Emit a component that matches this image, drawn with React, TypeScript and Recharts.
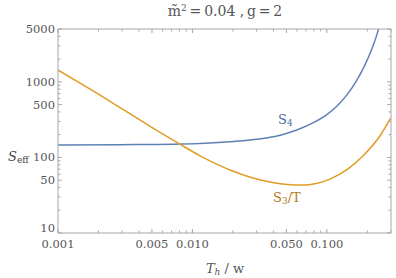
import { LineChart, Line, XAxis, YAxis } from 'recharts'

// S4 curve (blue)
const S4_T = [0.001, 0.0029, 0.0084, 0.0114, 0.0201, 0.0361, 0.0451, 0.0604, 0.0794, 0.1028, 0.118, 0.14, 0.166, 0.191, 0.215, 0.234, 0.246]
const S4_VAL = [146, 147.6, 150.7, 153, 162, 182, 197, 232, 288, 383, 471, 662, 1030, 1637, 2649, 4055, 5495]

// S3/T curve (orange)
const S3_T = [0.001, 0.001675, 0.003, 0.00485, 0.00811, 0.0114, 0.0153, 0.0201, 0.027, 0.0361, 0.0451, 0.0564, 0.0694, 0.0851, 0.1064, 0.142, 0.187, 0.251, 0.298]
const S3_VAL = [1432, 830, 438, 258, 149, 105, 81, 65.5, 54.6, 47.9, 44.8, 43.3, 43.3, 45.5, 52, 69.3, 106, 198, 330]

const X_MAJOR = [0.001, 0.005, 0.01, 0.05, 0.1]
const X_MAJOR_LABELS = ['0.001', '0.005', '0.010', '0.050', '0.100']
const X_MINOR = [0.002, 0.003, 0.004, 0.006, 0.007, 0.008, 0.009, 0.02, 0.03, 0.04, 0.06, 0.07, 0.08, 0.09, 0.2, 0.3]
const Y_MAJOR = [10, 50, 100, 500, 1000, 5000]
const Y_MAJOR_LABELS = ['10', '50', '100', '500', '1000', '5000']
const Y_MINOR = [20, 30, 40, 60, 70, 80, 90, 200, 300, 400, 600, 700, 800, 900, 2000, 3000, 4000]

const X_DOMAIN: [number, number] = [0.001, 0.3]
const Y_DOMAIN: [number, number] = [10, 5000]

const FRAME = '#a6a6a6'
const TICK_TEXT = '#555'
const BLUE = '#5e81b5'
const ORANGE = '#e19c24'
const FONT = '"DejaVu Serif", serif'

const s4Data = S4_T.map((t, i) => ({ t, v: S4_VAL[i] }))
const s3Data = S3_T.map((t, i) => ({ t, v: S3_VAL[i] }))
const xTicks = [...X_MAJOR, ...X_MINOR]
const yTicks = [...Y_MAJOR, ...Y_MINOR]

const majorIndex = (arr: number[], v: number) => arr.findIndex((m) => Math.abs(m - v) / m < 1e-6)

function XTick({ x, y, payload, side }: any) {
  const v = payload.value
  const idx = majorIndex(X_MAJOR, v)
  const len = idx >= 0 ? 4 : 2.5
  const dir = side === 'top' ? 1 : -1
  return (
    <g>
      <line x1={x} x2={x} y1={y} y2={y + dir * len} stroke={FRAME} strokeWidth={1} />
      {side !== 'top' && idx >= 0 && (
        <text x={x} y={y + 15} textAnchor="middle" fill={TICK_TEXT} fontSize={11.5} fontFamily={FONT}>
          {X_MAJOR_LABELS[idx]}
        </text>
      )}
    </g>
  )
}

function YTick({ x, y, payload, side }: any) {
  const v = payload.value
  const idx = majorIndex(Y_MAJOR, v)
  const len = idx >= 0 ? 4 : 2.5
  const dir = side === 'right' ? -1 : 1
  return (
    <g>
      <line x1={x} x2={x + dir * len} y1={y} y2={y} stroke={FRAME} strokeWidth={1} />
      {side !== 'right' && idx >= 0 && (
        <text x={x - 3} y={v === 10 ? y - 1 : y + 4} textAnchor="end" fill={TICK_TEXT} fontSize={11.5} fontFamily={FONT}>
          {Y_MAJOR_LABELS[idx]}
        </text>
      )}
    </g>
  )
}

const textBase: React.CSSProperties = {
  position: 'absolute',
  fontFamily: FONT,
  whiteSpace: 'nowrap',
  lineHeight: 1,
}

const axisCommon = {
  type: 'number' as const,
  scale: 'log' as const,
  allowDataOverflow: true,
  interval: 0 as const,
  tickSize: 0,
  tickMargin: 0,
  tickLine: false,
  axisLine: { stroke: FRAME },
}

export default function App() {
  return (
    <div style={{ position: 'absolute', left: 0, top: 0, width: 396, height: 278, background: '#fff' }}>
      <LineChart width={396} height={278} margin={{ top: 28, right: 4, bottom: 44, left: 57 }}>
        <XAxis {...axisCommon} xAxisId="b" dataKey="t" domain={X_DOMAIN} ticks={xTicks} height={1} tick={<XTick side="bottom" />} />
        <XAxis {...axisCommon} xAxisId="top" orientation="top" dataKey="t" domain={X_DOMAIN} ticks={xTicks} height={1} tick={<XTick side="top" />} />
        <YAxis {...axisCommon} yAxisId="l" domain={Y_DOMAIN} ticks={yTicks} width={1} tick={<YTick side="left" />} />
        <YAxis {...axisCommon} yAxisId="right" orientation="right" domain={Y_DOMAIN} ticks={yTicks} width={1} tick={<YTick side="right" />} />
        <Line xAxisId="b" yAxisId="l" data={s4Data} dataKey="v" type="monotone" stroke={BLUE} strokeWidth={1.5} dot={false} isAnimationActive={false} />
        <Line xAxisId="b" yAxisId="l" data={s3Data} dataKey="v" type="monotone" stroke={ORANGE} strokeWidth={1.5} dot={false} isAnimationActive={false} />
      </LineChart>

      <div style={{ ...textBase, left: 0, width: 450, top: 4, textAlign: 'center', fontSize: 14, color: '#555' }}>
        m̃<sup style={{ fontSize: 9, verticalAlign: 5 }}>2</sup>{'\u2009=\u20090.04 ,\u2009g\u2009=\u20092'}
      </div>
      <div style={{ ...textBase, left: 8, top: 150, fontSize: 13, color: '#444' }}>
        <i>S</i>
        <sub style={{ fontSize: 9, verticalAlign: -2 }}>eff</sub>
      </div>
      <div style={{ ...textBase, left: 0, width: 450, top: 262, textAlign: 'center', fontSize: 13, color: '#555' }}>
        <i>T</i>
        <sub style={{ fontSize: 9, verticalAlign: -2 }}><i>h</i></sub> / w
      </div>
      <div style={{ ...textBase, left: 278, top: 113, fontSize: 13, color: '#4a6a9c' }}>
        S<sub style={{ fontSize: 9, verticalAlign: -2 }}>4</sub>
      </div>
      <div style={{ ...textBase, left: 273, top: 191, fontSize: 13, color: '#b07a1c' }}>
        S<sub style={{ fontSize: 9, verticalAlign: -2 }}>3</sub>/T
      </div>
    </div>
  )
}
